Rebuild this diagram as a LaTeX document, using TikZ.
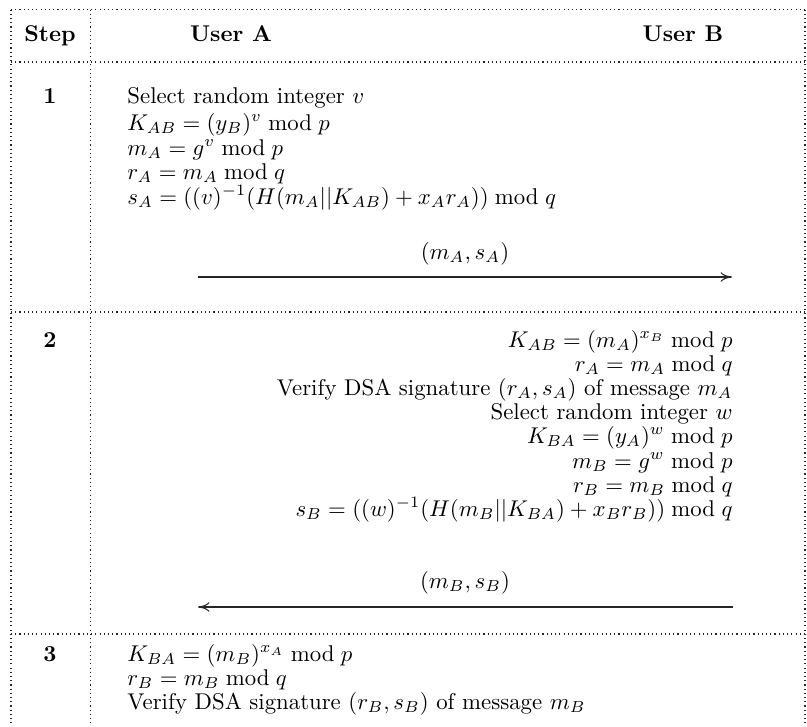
\documentclass[tikz,border=0pt]{standalone}
\usetikzlibrary{arrows.meta}
\begin{document}
\begin{tikzpicture}[x=0.4386pt,y=-0.4386pt,
  grid/.style={line width=0.5pt,dash pattern=on 0.5pt off 1.35pt,black!85},
  msg/.style={line width=0.45pt,black!85,-{To[length=5pt,width=4.2pt]}},
  lft/.style={anchor=base west,inner sep=0pt},
  rgt/.style={anchor=base east,inner sep=0pt},
  ctr/.style={anchor=base,inner sep=0pt}]
\useasboundingbox (0,0) rectangle (807,727);
% table grid
\draw[grid] (11,9.5) -- (805,9.5);
\draw[grid] (11,62) -- (805,62);
\draw[grid] (11,312) -- (805,312);
\draw[grid] (11,634) -- (805,634);
\draw[grid] (11,9.5) -- (11,727);
\draw[grid] (90.5,9.5) -- (90.5,727);
\draw[grid] (805,9.5) -- (805,727);
% header
\node[ctr] (hstep) at (50,41) {\textbf{Step}};
\node[ctr] (hua) at (231,41) {\textbf{User A}};
\node[ctr] (hub) at (683,41) {\textbf{User B}};
% step numbers
\node[ctr] (n1) at (50,104) {\textbf{1}};
\node[ctr] (n2) at (50,347) {\textbf{2}};
\node[ctr] (n3) at (50,661) {\textbf{3}};
% row 1
\node[lft] (a1) at (127,104) {Select random integer $v$};
\node[lft] (a2) at (127,130) {$K_{AB}=(y_B)^v \bmod p$};
\node[lft] (a3) at (127,155) {$m_A=g^v \bmod p$};
\node[lft] (a4) at (127,179) {$r_A=m_A \bmod q$};
\node[lft] (a5) at (127,204) {$s_A=((v)^{-1}(H(m_A||K_{AB})+x_Ar_A)) \bmod q$};
\node[ctr] (l1) at (465,259) {$(m_A,s_A)$};
\coordinate (p1s) at (198,277);
\coordinate (p1e) at (732,277);
\draw[msg] (p1s) -- (p1e);
% row 2
\node[rgt] (b1) at (733,347) {$K_{AB}=(m_A)^{x_B} \bmod p$};
\node[rgt] (b2) at (733,371) {$r_A=m_A \bmod q$};
\node[rgt] (b3) at (733,395) {Verify DSA signature $(r_A,s_A)$ of message $m_A$};
\node[rgt] (b4) at (733,419) {Select random integer $w$};
\node[rgt] (b5) at (733,443) {$K_{BA}=(y_A)^w \bmod p$};
\node[rgt] (b6) at (733,468) {$m_B=g^w \bmod p$};
\node[rgt] (b7) at (733,492) {$r_B=m_B \bmod q$};
\node[rgt] (b8) at (733,516) {$s_B=((w)^{-1}(H(m_B||K_{BA})+x_Br_B)) \bmod q$};
\node[ctr] (l2) at (465,588) {$(m_B,s_B)$};
\coordinate (p2s) at (733,607);
\coordinate (p2e) at (198,607);
\draw[msg] (p2s) -- (p2e);
% row 3
\node[lft] (c1) at (127,661) {$K_{BA}=(m_B)^{x_A} \bmod p$};
\node[lft] (c2) at (127,685) {$r_B=m_B \bmod q$};
\node[lft] (c3) at (127,709) {Verify DSA signature $(r_B,s_B)$ of message $m_B$};
\end{tikzpicture}
\end{document}
